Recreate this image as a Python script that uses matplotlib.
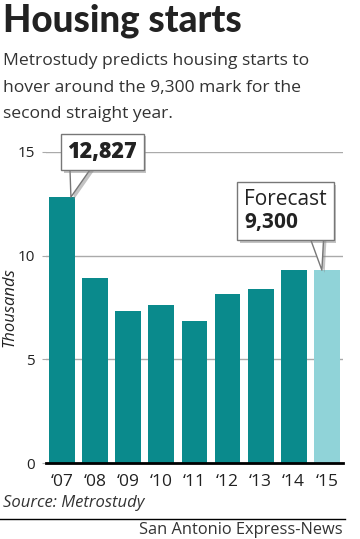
import matplotlib
matplotlib.use("Agg")
import matplotlib.pyplot as plt
import matplotlib.patheffects as pe

years = ["‘07", "‘08", "‘09", "‘10", "‘11", "‘12", "‘13", "‘14", "‘15"]
starts = [12.827, 8.9, 7.35, 7.63, 6.87, 8.13, 8.4, 9.29, 9.3]
forecast = [False, False, False, False, False, False, False, False, True]
yticks = [0, 5, 10, 15]

teal = "#0a8a8c"
light = "#90d3d8"
plt.rcParams["font.family"] = ["Open Sans", "DejaVu Sans"]
plt.rcParams["mathtext.fontset"] = "custom"
plt.rcParams["mathtext.bf"] = "Open Sans:bold"

fig = plt.figure(figsize=(3.6, 5.39), dpi=100)
ax = fig.add_axes([0.128, 0.141, 0.825, 0.577])

colors = [light if f else teal for f in forecast]
ax.bar(range(len(years)), starts, width=0.78, color=colors, zorder=2)

ax.set_xlim(-0.48, 8.49)
ax.set_ylim(0, 15)
ax.set_yticks(yticks)
ax.set_yticklabels([str(t) for t in yticks], fontsize=11, color="#222222")
ax.set_xticks(range(len(years)))
ax.set_xticklabels(years, fontsize=12.5, color="#222222")
ax.tick_params(axis="x", length=0, pad=8)
ax.tick_params(axis="y", length=3, color="#aaaaaa", pad=5)
ax.grid(axis="y", color="#aaaaaa", lw=1, zorder=0)
ax.set_axisbelow(True)
for s in ["top", "right", "left"]:
    ax.spines[s].set_visible(False)
ax.spines["bottom"].set_linewidth(2)
ax.spines["bottom"].set_zorder(3)
ax.set_ylabel("Thousands", style="italic", fontsize=12, color="#222222")
ax.yaxis.set_label_coords(-0.096, 0.5)

shadow = [pe.withSimplePatchShadow(offset=(2, -2), shadow_rgbFace="#888888", alpha=0.5)]

# peak callout
a1 = ax.annotate("12,827", xy=(0.27, starts[0]), xytext=(1.22, 15.0),
                 ha="center", va="center", fontsize=15.5, fontweight="heavy", color="#222222",
                 bbox=dict(boxstyle="square,pad=0.3", fc="white", ec="#777777", lw=1),
                 zorder=5, annotation_clip=False,
                 arrowprops=dict(arrowstyle="wedge,tail_width=1.3", fc="white", ec="#777777",
                                 lw=1, patchA=None, shrinkA=0, shrinkB=0, relpos=(0.22, 0.3)))
a1.get_bbox_patch().set_path_effects(shadow)
a1.arrow_patch.set_path_effects(shadow)

# forecast callout
a2 = ax.annotate("Forecast\n$\\mathbf{9{,}300}$", xy=(7.85, starts[-1]), xytext=(6.75, 12.15),
                 ha="center", va="center", multialignment="left", fontsize=15,
                 color="#222222", linespacing=1.1,
                 bbox=dict(boxstyle="square,pad=0.33", fc="white", ec="#777777", lw=1),
                 zorder=5, annotation_clip=False,
                 arrowprops=dict(arrowstyle="wedge,tail_width=1.0", fc="white", ec="#777777",
                                 lw=1, patchA=None, shrinkA=0, shrinkB=0, relpos=(0.85, 0.3)))
a2.get_bbox_patch().set_path_effects(shadow)
a2.arrow_patch.set_path_effects(shadow)

fig.text(0.008, 0.941, "Housing starts", fontsize=26.5, fontweight="black",
         family=["Lato", "DejaVu Sans"], color="#222222", va="baseline")
fig.text(0.008, 0.879, "Metrostudy predicts housing starts to", fontsize=12.6,
         color="#333333", va="baseline")
fig.text(0.008, 0.830, "hover around the 9,300 mark for the", fontsize=12.6,
         color="#333333", va="baseline")
fig.text(0.008, 0.781, "second straight year.", fontsize=12.6,
         color="#333333", va="baseline")

fig.text(0.008, 0.067, "Source: Metrostudy", fontsize=12, style="italic",
         color="#333333", va="center")
fig.add_artist(plt.Line2D([0, 0.958], [0.037, 0.037], color="black", lw=1))
fig.text(0.953, 0.016, "San Antonio Express-News", fontsize=11.8,
         color="#333333", ha="right", va="center")

fig.savefig("out.png", dpi=100)
